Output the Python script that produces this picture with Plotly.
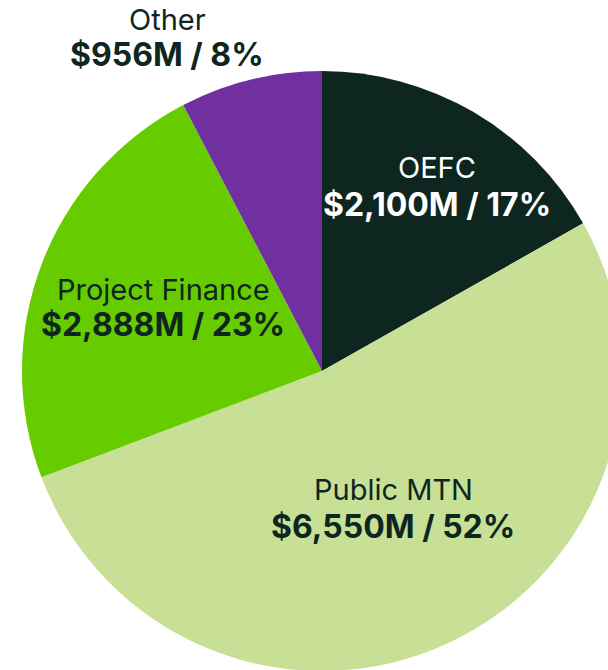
import plotly.graph_objects as go

categories = ["OEFC", "Public MTN", "Project Finance", "Other"]
values_musd = [2100, 6550, 2888, 956]
colors = ["#0e2620", "#c8df96", "#66cc00", "#7030a0"]
label_colors = ["#ffffff", "#0e2620", "#0e2620", "#0e2620"]
# label centre positions in pixels (name line, value line)
label_px = {
    "OEFC": (437, 168, 204),
    "Public MTN": (393, 489, 526),
    "Project Finance": (163, 289, 324),
    "Other": (167, 19, 54),
}

W, H = 622, 671
ML, MT = 22, 71
PW, PH = W - ML, H - MT

total = sum(values_musd)

fig = go.Figure(go.Pie(
    labels=categories,
    values=values_musd,
    marker=dict(colors=colors, line=dict(width=0)),
    sort=False,
    direction="clockwise",
    rotation=0,
    textinfo="none",
    hoverinfo="skip",
    showlegend=False,
))

def px2paper(x, y):
    return (x - ML) / PW, 1 - (y - MT) / PH

FONT = "Inter, Liberation Sans, Arial, sans-serif"
ann = []
for cat, val, col in zip(categories, values_musd, label_colors):
    x, y1, y2 = label_px[cat]
    pct = round(100 * val / total)
    xp, yp1 = px2paper(x, y1)
    _, yp2 = px2paper(x, y2)
    ann.append(dict(x=xp, y=yp1, xref="paper", yref="paper", text=cat,
                    showarrow=False, xanchor="center", yanchor="middle",
                    font=dict(family=FONT, size=29, color=col)))
    ann.append(dict(x=xp, y=yp2, xref="paper", yref="paper",
                    text=f"<b>${val:,}M / {pct}%</b>",
                    showarrow=False, xanchor="center", yanchor="middle",
                    font=dict(family=FONT, size=32, color=col)))

fig.update_layout(
    width=W, height=H,
    margin=dict(l=ML, r=0, t=MT, b=0, pad=0),
    paper_bgcolor="white",
    plot_bgcolor="white",
    annotations=ann,
)

fig.write_html("out.html", config={"displayModeBar": False},
               post_script="document.body.style.margin='0';document.body.style.overflow='hidden';document.documentElement.style.overflow='hidden';")
